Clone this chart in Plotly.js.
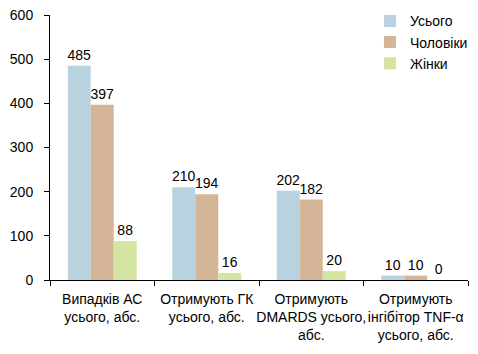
<!DOCTYPE html>
<html><head><meta charset="utf-8">
<script src="https://cdn.plot.ly/plotly-3.0.1.min.js"></script>
<style>html,body{margin:0;padding:0;background:#fff}</style>
</head><body><div id="chart" style="width:478px;height:354px"></div>
<script>
const categories = ["Випадків АС<br>усього, абс.", "Отримують ГК<br>усього, абс.", "Отримують<br>DMARDS усього,<br>абс.", "Отримують<br>інгібітор TNF-α<br>усього, абс."];
const seriesNames = ["Усього", "Чоловіки", "Жінки"];
const total = [485, 210, 202, 10];
const men = [397, 194, 182, 10];
const women = [88, 16, 20, 0];
const colors = ["#b8d3df", "#d5b597", "#d4e5a1"];
const yTicks = [0, 100, 200, 300, 400, 500, 600];

const font = {family: "Liberation Sans, Arial, sans-serif", size: 14, color: "#000"};
const data = [total, men, women].map((vals, i) => ({
  type: "bar", name: seriesNames[i], x: categories, y: vals,
  marker: {color: colors[i]}, text: vals.map(String), textposition: "outside",
  textfont: font, cliponaxis: false, constraintext: "none"
}));
const layout = {
  width: 478, height: 354, margin: {l: 50, r: 10, t: 15, b: 74, autoexpand: false},
  paper_bgcolor: "#fff", plot_bgcolor: "#fff", font: font,
  barmode: "group", bargap: 0.34, bargroupgap: 0,
  showlegend: true,
  legend: {xref: "container", yref: "container", x: 0.774, y: 0.985, xanchor: "left", yanchor: "top", font: font, bgcolor: "rgba(0,0,0,0)", tracegroupgap: 0, itemwidth: 30},
  xaxis: {showline: true, linecolor: "#000", linewidth: 1, ticks: "outside", tickson: "boundaries", ticklen: 5, tickcolor: "#000", showgrid: false, tickfont: font, tickangle: 0, automargin: false, ticklabelstandoff: 6},
  yaxis: {range: [0, 600], tickvals: yTicks, showline: true, linecolor: "#000", linewidth: 1, ticks: "outside", ticklen: 5, tickcolor: "#000", showgrid: false, zeroline: false, tickfont: font, ticklabelstandoff: 8, automargin: false}
};
Plotly.newPlot("chart", data, layout, {displayModeBar: false});
</script></body></html>
